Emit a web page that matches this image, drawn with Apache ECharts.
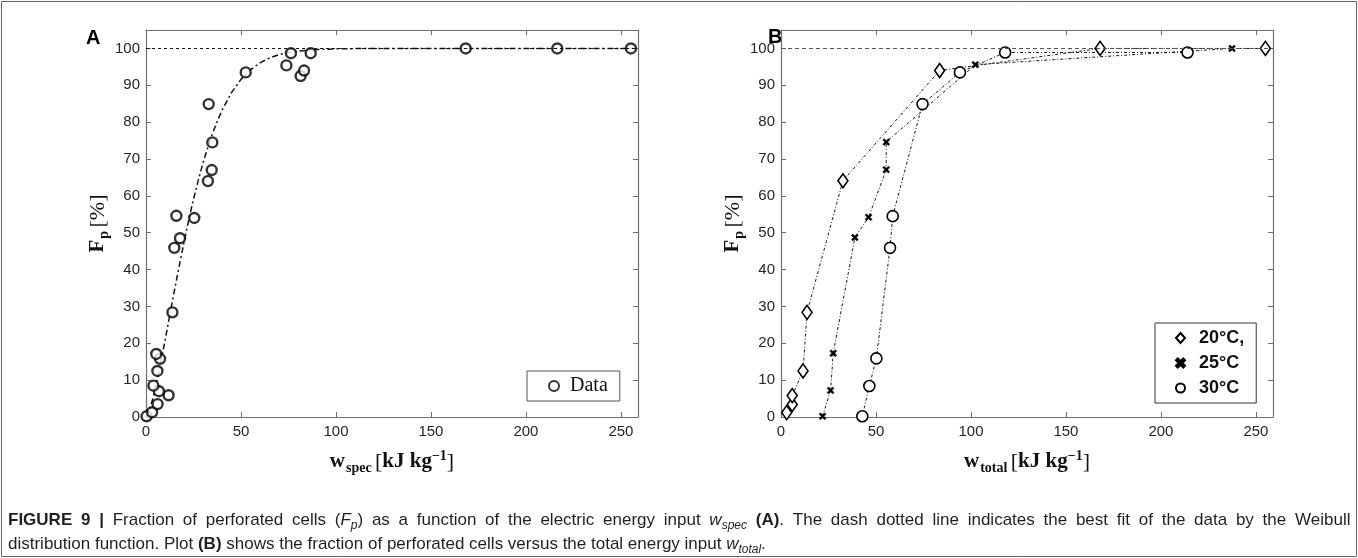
<!DOCTYPE html>
<html>
<head>
<meta charset="utf-8">
<script src="https://cdn.jsdelivr.net/npm/echarts@6/dist/echarts.min.js"></script>
<style>
html,body{margin:0;padding:0;background:#fff;}
#chart{width:1358px;height:558px;}
</style>
</head>
<body>
<div id="chart"></div>
<script>
// ---- Panel A: Fp vs w_spec ----
const aW  = [0.3,3.2,6.1,11.9,6.8,3.9,6.0,7.4,5.4,13.9,14.9,17.9,25.4,16.0,32.6,34.6,34.9,33.0,52.5,81.4,83.2,73.9,76.3,86.7,168.3,216.5,255.3];
const aFp = [0.2,1.3,3.5,5.9,7.0,8.5,12.5,15.8,17.1,28.4,45.9,48.5,54.0,54.6,64.0,67.0,74.5,84.9,93.5,92.5,94.0,95.4,98.7,98.7,100,100,100];
// Weibull fit curve
const fitW  = [0,1,2,3.5,5,7.5,10,12.5,15,17.5,20,22.5,25,27.5,30,32.5,35,37.5,40,45,50,55,60,65,70,75,80,90,100,120,258];
const fitFp = [0,0.8,2.2,4.8,8,14.1,20.7,27.6,34.4,41,47.4,53.5,59.1,64.2,68.9,73.1,76.9,80.2,83.2,88,91.6,94.2,96.1,97.4,98.3,98.9,99.3,99.7,99.9,100,100];

// ---- Panel B: Fp vs w_total ----
const t20W  = [3.0,5.9,5.9,11.6,13.7,32.6,83.5,168,255];
const t20Fp = [1.2,3.4,5.8,12.5,28.4,64.1,94.0,100,100];
const t25W  = [21.9,26.1,27.5,38.9,46.1,55.4,55.4,102.3,237.4];
const t25Fp = [0.2,7.2,17.3,48.7,54.2,67.1,74.6,95.6,100];
const t30W  = [42.8,46.5,50.2,57.4,58.8,74.5,94.2,118,214];
const t30Fp = [0.2,8.4,15.9,45.9,54.5,84.9,93.5,98.9,98.9];

const xTickMax = 259, xInterval = 50;
const yTickMax = 105, yInterval = 10;
const refLevel = 100;

// caption words (line 1 is justified in the reference)
const caption1 = ['{b|FIGURE}','{b|9}','{b||}','{t|Fraction}','{t|of}','{t|perforated}','{t|cells}','{t|(}{i|F}{is|p}{t|)}','{t|as}','{t|a}','{t|function}','{t|of}','{t|the}','{t|electric}','{t|energy}','{t|input}','{i|w}{is|spec}','{b|(A)}{t|.}','{t|The}','{t|dash}','{t|dotted}','{t|line}','{t|indicates}','{t|the}','{t|best}','{t|fit}','{t|of}','{t|the}','{t|data}','{t|by}','{t|the}','{t|Weibull}'];
const caption2 = '{t|distribution function. Plot }{b|(B)}{t| shows the fraction of perforated cells versus the total energy input }{i|w}{is|total}{t|.}';

const zip = (a, b) => a.map((v, i) => [v, b[i]]);

const crossPath = 'path://M0,2L2,0L5,3L8,0L10,2L7,5L10,8L8,10L5,7L2,10L0,8L3,5Z';
const sans = 'Liberation Sans, Arial, sans-serif';
const tickFont = {fontFamily: sans, fontSize: 15, color: '#262626'};
const axisLineColor = '#6f6f6f';

function xAx(grid, pos, nameRich, nameTxt) {
  const main = pos === 'bottom';
  return {
    gridIndex: grid, type: 'value', position: pos, min: 0, max: xTickMax, interval: xInterval,
    axisLine: {show: true, onZero: false, lineStyle: {color: axisLineColor, width: 1.2}},
    axisTick: {show: true, inside: true, length: 5, lineStyle: {color: axisLineColor}},
    axisLabel: Object.assign({show: main, margin: 7, showMaxLabel: false}, tickFont),
    splitLine: {show: false},
    name: main ? nameTxt : '', nameLocation: 'middle', nameGap: 32,
    nameTextStyle: {rich: nameRich}
  };
}
function yAx(grid, pos, nameRich, nameTxt) {
  const main = pos === 'left';
  return {
    gridIndex: grid, type: 'value', position: pos, min: 0, max: yTickMax, interval: yInterval,
    axisLine: {show: true, onZero: false, lineStyle: {color: axisLineColor, width: 1.2}},
    axisTick: {show: true, inside: true, length: 5, lineStyle: {color: axisLineColor}},
    axisLabel: Object.assign({show: main, margin: 6, showMaxLabel: false}, tickFont),
    splitLine: {show: false},
    name: main ? nameTxt : '', nameLocation: 'middle', nameGap: 33, nameRotate: 90,
    nameTextStyle: {rich: nameRich}
  };
}

const serif = 'Liberation Serif, DejaVu Serif, serif';
const nameRich = {
  b: {fontFamily: serif, fontWeight: 'bold', fontSize: 21, color: '#111', lineHeight: 26, verticalAlign: 'middle'},
  n: {fontFamily: serif, fontSize: 22, color: '#111', lineHeight: 26, verticalAlign: 'middle'},
  s: {fontFamily: serif, fontWeight: 'bold', fontSize: 14, color: '#111', lineHeight: 13, verticalAlign: 'bottom', padding: [0,0,0,1]},
  sup: {fontFamily: serif, fontWeight: 'bold', fontSize: 14, color: '#111', lineHeight: 13, verticalAlign: 'top'}
};
const yName = '{b|F}{s|p} {n|[%]}';
const xNameA = '{b|w}{s|spec} {n|[}{b|kJ kg}{sup|−1}{n|]}';
const xNameB = '{b|w}{s|total} {n|[}{b|kJ kg}{sup|−1}{n|]}';

const bLine = {color: '#1a1a1a', width: 1, type: [3, 2, 1, 2]};

const capRich = {
  b: {fontFamily: sans, fontWeight: 'bold', fontSize: 17, fill: '#231f20', lineHeight: 22, verticalAlign: 'middle'},
  t: {fontFamily: sans, fontSize: 17, fill: '#231f20', lineHeight: 22, verticalAlign: 'middle'},
  i: {fontFamily: sans, fontStyle: 'italic', fontSize: 17, fill: '#231f20', lineHeight: 22, verticalAlign: 'middle'},
  is: {fontFamily: sans, fontStyle: 'italic', fontSize: 12, fill: '#231f20', lineHeight: 12, verticalAlign: 'bottom'},
  sp: {fontFamily: sans, fontSize: 17, width: 8.75, lineHeight: 22, verticalAlign: 'middle'}
};

const option = {
  animation: false,
  backgroundColor: '#fff',
  grid: [
    {left: 146, top: 30, width: 492, height: 387},
    {left: 781, top: 30, width: 492, height: 387}
  ],
  xAxis: [
    xAx(0, 'bottom', nameRich, xNameA), xAx(0, 'top'),
    xAx(1, 'bottom', nameRich, xNameB), xAx(1, 'top')
  ],
  yAxis: [
    yAx(0, 'left', nameRich, yName), yAx(0, 'right'),
    yAx(1, 'left', nameRich, yName), yAx(1, 'right')
  ],
  legend: [
    {
      data: [{name: 'Data', icon: 'circle'}],
      left: 527, top: 371, orient: 'vertical',
      itemWidth: 10, itemHeight: 10,
      padding: [5, 12, 5, 21],
      borderColor: '#555', borderWidth: 1, backgroundColor: '#fff',
      textStyle: {fontFamily: serif, fontSize: 20, color: '#111', padding: [0, 0, 0, 6]}
    },
    {
      data: [{name: '20°C,', icon: 'diamond'}, {name: '25°C', icon: crossPath}, {name: '30°C', icon: 'circle'}],
      left: 1155, top: 323, orient: 'vertical',
      itemWidth: 9, itemHeight: 10, itemGap: 7,
      padding: [6, 12, 6, 20],
      borderColor: '#333', borderWidth: 1, backgroundColor: '#fff',
      textStyle: {fontFamily: sans, fontWeight: 'bold', fontSize: 18, color: '#111', padding: [0, 0, 0, 9]}
    }
  ],
  series: [
    {
      name: 'fit', type: 'line', xAxisIndex: 0, yAxisIndex: 0,
      data: zip(fitW, fitFp), showSymbol: false, smooth: false, z: 2,
      lineStyle: {color: '#111', width: 1.5, type: [6, 3, 2, 3]},
      markLine: {
        silent: true, symbol: 'none', label: {show: false},
        lineStyle: {color: '#111', width: 1, type: [3, 3]},
        data: [{yAxis: refLevel}]
      }
    },
    {
      name: 'Data', type: 'scatter', xAxisIndex: 0, yAxisIndex: 0,
      data: zip(aW, aFp), symbol: 'circle', symbolSize: 10, z: 3,
      itemStyle: {color: '#fff', borderColor: '#000', borderWidth: 2.4}
    },
    {
      name: '20°C,', type: 'line', xAxisIndex: 2, yAxisIndex: 2,
      data: zip(t20W, t20Fp), symbol: 'diamond', symbolSize: [10, 14], z: 3,
      lineStyle: bLine,
      itemStyle: {color: '#fff', borderColor: '#000', borderWidth: 1.6},
      markLine: {
        silent: true, symbol: 'none', label: {show: false},
        lineStyle: {color: '#555', width: 1, type: [4, 3]},
        data: [{yAxis: refLevel}]
      }
    },
    {
      name: '25°C', type: 'line', xAxisIndex: 2, yAxisIndex: 2,
      data: zip(t25W, t25Fp), symbol: crossPath, symbolSize: 7, z: 3,
      lineStyle: bLine,
      itemStyle: {color: '#000', borderColor: '#000', borderWidth: 0.5}
    },
    {
      name: '30°C', type: 'line', xAxisIndex: 2, yAxisIndex: 2,
      data: zip(t30W, t30Fp), symbol: 'circle', symbolSize: 11, z: 3,
      lineStyle: bLine,
      itemStyle: {color: '#fff', borderColor: '#000', borderWidth: 1.6}
    }
  ],
  graphic: [
    {type: 'rect', shape: {x: 1.5, y: 1.5, width: 1355, height: 555}, style: {fill: 'none', stroke: '#666', lineWidth: 1}, silent: true},
    {type: 'text', left: 86, top: 28, style: {text: 'A', font: 'bold 20px Liberation Sans, Arial, sans-serif', fill: '#000'}},
    {type: 'text', left: 768, top: 27, style: {text: 'B', font: 'bold 20px Liberation Sans, Arial, sans-serif', fill: '#000'}},
    {type: 'text', left: 8, top: 512, style: {text: caption1.join('{sp| }'), rich: capRich}},
    {type: 'text', left: 8, top: 536, style: {text: caption2, rich: capRich}}
  ]
};

const chart = echarts.init(document.getElementById('chart'), null, {renderer: 'canvas'});
chart.setOption(option);
</script>
</body>
</html>
